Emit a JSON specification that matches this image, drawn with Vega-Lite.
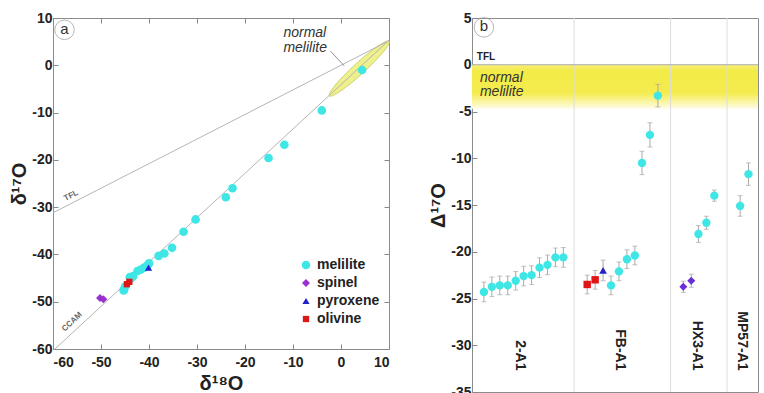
{
  "$schema": "https://vega.github.io/schema/vega-lite/v6.json",
  "padding": {"left": 9, "top": 10, "right": 0, "bottom": 0},
  "background": "white",
  "spacing": 36,
  "config": {
    "font": "Liberation Sans",
    "view": {"stroke": "#8c8c8c", "strokeWidth": 1},
    "axis": {
      "labelFont": "Liberation Sans", "labelFontSize": 14, "labelFontWeight": "bold", "labelColor": "#222",
      "titleFont": "Liberation Sans", "titleFontSize": 20, "titleFontWeight": "bold", "titleColor": "#222",
      "domain": false, "grid": false, "tickColor": "#888", "tickSize": -5, "labelPadding": 6,
      "labelExpr": "'' + datum.value"
    }
  },
  "resolve": {"scale": {"color": "independent", "shape": "independent", "size": "independent"}},
  "hconcat": [
    {
      "width": 336,
      "height": 331,
      "encoding": {
        "x": {"field": "x", "type": "quantitative", "scale": {"domain": [-60, 10], "nice": false, "zero": false}, "axis": null},
        "y": {"field": "y", "type": "quantitative", "scale": {"domain": [-60, 10], "nice": false, "zero": false}, "axis": null}
      },
      "resolve": {"axis": {"x": "independent", "y": "independent"}},
      "layer": [
        {
          "data": {"values": [{"x": 3.8, "y": -0.7}]},
          "mark": {"type": "point", "shape": "M -1 0 A 1 0.14 0 1 0 1 0 A 1 0.14 0 1 0 -1 0 Z", "size": 6561, "angle": -42.5, "filled": true, "fill": "#eef08c", "stroke": "#c9c862", "strokeWidth": 0.8, "opacity": 1}
        },
        {
          "data": {"values": [
            {"line": "TFL", "x": -60, "y": -31.2}, {"line": "TFL", "x": 10, "y": 5.2},
            {"line": "CCAM", "x": -59.6, "y": -60}, {"line": "CCAM", "x": 10, "y": 5.3}
          ]},
          "mark": {"type": "line", "color": "#b5b5b5", "strokeWidth": 1},
          "encoding": {"detail": {"field": "line", "type": "nominal"}}
        },
        {
          "data": {"values": [{"x": -2.2, "y": 3.0, "x2": 0.7, "y2": -0.15}]},
          "mark": {"type": "rule", "color": "#777", "strokeWidth": 0.8},
          "encoding": {"x2": {"field": "x2"}, "y2": {"field": "y2"}}
        },
        {
          "data": {"values": [
            {"mineral": "melilite", "x": 4.4, "y": -1.0},
            {"mineral": "melilite", "x": -4.0, "y": -9.55},
            {"mineral": "melilite", "x": -11.8, "y": -16.8},
            {"mineral": "melilite", "x": -15.1, "y": -19.6},
            {"mineral": "melilite", "x": -22.6, "y": -26.0},
            {"mineral": "melilite", "x": -24.0, "y": -27.9},
            {"mineral": "melilite", "x": -30.3, "y": -32.6},
            {"mineral": "melilite", "x": -32.8, "y": -35.2},
            {"mineral": "melilite", "x": -35.2, "y": -38.6},
            {"mineral": "melilite", "x": -36.8, "y": -39.8},
            {"mineral": "melilite", "x": -38.0, "y": -40.3},
            {"mineral": "melilite", "x": -40.0, "y": -41.9},
            {"mineral": "melilite", "x": -40.3, "y": -42.3},
            {"mineral": "melilite", "x": -41.0, "y": -42.8},
            {"mineral": "melilite", "x": -41.7, "y": -43.2},
            {"mineral": "melilite", "x": -42.4, "y": -43.5},
            {"mineral": "melilite", "x": -43.3, "y": -44.6},
            {"mineral": "melilite", "x": -43.8, "y": -45.1},
            {"mineral": "melilite", "x": -44.0, "y": -44.8},
            {"mineral": "melilite", "x": -45.0, "y": -46.8},
            {"mineral": "melilite", "x": -45.2, "y": -47.5},
            {"mineral": "melilite", "x": -45.3, "y": -47.6},
            {"mineral": "spinel", "x": -50.2, "y": -49.2},
            {"mineral": "spinel", "x": -49.5, "y": -49.5},
            {"mineral": "pyroxene", "x": -40.1, "y": -42.8},
            {"mineral": "olivine", "x": -44.6, "y": -46.3},
            {"mineral": "olivine", "x": -44.1, "y": -45.8}
          ]},
          "mark": {"type": "point", "filled": true, "opacity": 1},
          "encoding": {
            "x": {"field": "x", "type": "quantitative", "scale": {"domain": [-60, 10], "nice": false, "zero": false},
                  "axis": {"orient": "bottom", "values": [-60, -50, -40, -30, -20, -10, 0, 10], "title": "δ¹⁸O", "titlePadding": 4, "labelPadding": 11}},
            "y": {"field": "y", "type": "quantitative", "scale": {"domain": [-60, 10], "nice": false, "zero": false},
                  "axis": {"orient": "left", "values": [-60, -50, -40, -30, -20, -10, 0, 10], "title": "δ¹⁷O", "titlePadding": 2, "labelPadding": 6}},
            "color": {"field": "mineral", "type": "nominal",
                      "scale": {"domain": ["melilite", "spinel", "pyroxene", "olivine"], "range": ["#3ee6e6", "#9b2fd0", "#2222cc", "#e01515"]},
                      "legend": {"orient": "none", "legendX": 246, "legendY": 240, "title": null, "padding": 0, "labelFontSize": 14, "labelFontWeight": "bold", "labelColor": "#222", "labelFont": "Liberation Sans", "symbolSize": 60, "symbolStrokeWidth": 0, "rowPadding": 4, "labelOffset": 4}},
            "shape": {"field": "mineral", "type": "nominal",
                      "scale": {"domain": ["melilite", "spinel", "pyroxene", "olivine"], "range": ["circle", "diamond", "triangle-up", "square"]},
                      "legend": {"orient": "none", "legendX": 246, "legendY": 240, "title": null, "padding": 0, "labelFontSize": 14, "labelFontWeight": "bold", "labelColor": "#222", "labelFont": "Liberation Sans", "symbolSize": 60, "symbolStrokeWidth": 0, "rowPadding": 4, "labelOffset": 4}},
            "size": {"field": "mineral", "type": "nominal",
                     "scale": {"domain": ["melilite", "spinel", "pyroxene", "olivine"], "range": [75, 40, 45, 40]}, "legend": null}
          }
        },
        {
          "data": {"values": [{"x": -56.2, "y": -27.6, "t": "TFL"}]},
          "mark": {"type": "text", "angle": -27, "fontSize": 8, "fontWeight": "bold", "color": "#666", "align": "center", "baseline": "middle"},
          "encoding": {"text": {"field": "t"}}
        },
        {
          "data": {"values": [{"x": -56.0, "y": -54.3, "t": "CCAM"}]},
          "mark": {"type": "text", "angle": -43, "fontSize": 8, "fontWeight": "bold", "color": "#666", "align": "center", "baseline": "middle"},
          "encoding": {"text": {"field": "t"}}
        },
        {
          "data": {"values": [{"x": -12.0, "y": 6.86, "t": "normal"}, {"x": -12.0, "y": 3.67, "t": "melilite"}]},
          "mark": {"type": "text", "fontSize": 14, "fontStyle": "italic", "color": "#333", "align": "left", "baseline": "middle"},
          "encoding": {"text": {"field": "t"}}
        },
        {
          "data": {"values": [{"x": -57.6, "y": 7.5}]},
          "mark": {"type": "point", "shape": "circle", "size": 380, "filled": false, "stroke": "#999", "strokeWidth": 1}
        },
        {
          "data": {"values": [{"x": -57.6, "y": 7.5, "t": "a"}]},
          "mark": {"type": "text", "fontSize": 15, "color": "#333", "align": "center", "baseline": "middle", "dy": -1},
          "encoding": {"text": {"field": "t"}}
        },
        {
          "data": {"values": [{"x": 0, "y": 0}]},
          "mark": {"type": "point", "opacity": 0},
          "encoding": {
            "x": {"field": "x", "type": "quantitative", "scale": {"domain": [-60, 10], "nice": false, "zero": false},
                  "axis": {"orient": "top", "values": [-60, -50, -40, -30, -20, -10, 0, 10], "labels": false, "title": null}},
            "y": {"field": "y", "type": "quantitative", "scale": {"domain": [-60, 10], "nice": false, "zero": false},
                  "axis": {"orient": "right", "values": [-60, -50, -40, -30, -20, -10, 0, 10], "labels": false, "title": null}}
          }
        }
      ]
    },
    {
      "width": 286,
      "height": 374,
      "resolve": {"axis": {"x": "independent", "y": "independent"}},
      "layer": [
        {
          "data": {"values": [{"idx": 0, "idx2": 36, "v": 0, "v2": -4.7}]},
          "mark": {"type": "rect", "color": {"gradient": "linear", "x1": 0, "y1": 0, "x2": 0, "y2": 1,
            "stops": [{"offset": 0, "color": "#f6ef7a"}, {"offset": 0.15, "color": "#f3eb45"}, {"offset": 0.65, "color": "#f4ec50"}, {"offset": 1, "color": "#fefce6"}]}},
          "encoding": {
            "x": {"field": "idx", "type": "quantitative", "scale": {"domain": [0, 36], "nice": false, "zero": false}, "axis": null},
            "x2": {"field": "idx2"},
            "y": {"field": "v", "type": "quantitative", "scale": {"domain": [-35, 5], "nice": false, "zero": false}, "axis": null},
            "y2": {"field": "v2"}
          }
        },
        {
          "data": {"values": [{"idx": 12.85}, {"idx": 25.0}, {"idx": 32.1}]},
          "mark": {"type": "rule", "color": "#dddddd", "strokeWidth": 1},
          "encoding": {
            "x": {"field": "idx", "type": "quantitative", "scale": {"domain": [0, 36], "nice": false, "zero": false}, "axis": null}
          }
        },
        {
          "data": {"values": [{"v": 0}]},
          "mark": {"type": "rule", "color": "#aaaaaa", "strokeWidth": 1},
          "encoding": {
            "y": {"field": "v", "type": "quantitative", "scale": {"domain": [-35, 5], "nice": false, "zero": false}, "axis": null}
          }
        },
        {
          "data": {"name": "b"},
          "mark": {"type": "errorbar", "ticks": {"size": 5}, "color": "#a8a8a8"},
          "encoding": {
            "x": {"field": "idx", "type": "quantitative", "scale": {"domain": [0, 36], "nice": false, "zero": false}, "axis": null},
            "y": {"field": "v", "type": "quantitative", "scale": {"domain": [-35, 5], "nice": false, "zero": false}, "axis": null},
            "yError": {"field": "err"}
          }
        },
        {
          "data": {"name": "b"},
          "mark": {"type": "point", "filled": true, "opacity": 1},
          "encoding": {
            "x": {"field": "idx", "type": "quantitative", "scale": {"domain": [0, 36], "nice": false, "zero": false}, "axis": null},
            "y": {"field": "v", "type": "quantitative", "scale": {"domain": [-35, 5], "nice": false, "zero": false},
                  "axis": {"orient": "left", "values": [-35, -30, -25, -20, -15, -10, -5, 0, 5], "title": "Δ¹⁷O", "titlePadding": 2, "labelPadding": 6}},
            "color": {"field": "mineral", "type": "nominal",
                      "scale": {"domain": ["melilite", "spinel", "pyroxene", "olivine"], "range": ["#3ee6e6", "#6a2ed6", "#2222cc", "#e01515"]}, "legend": null},
            "shape": {"field": "mineral", "type": "nominal",
                      "scale": {"domain": ["melilite", "spinel", "pyroxene", "olivine"], "range": ["circle", "diamond", "triangle-up", "square"]}, "legend": null},
            "size": {"field": "mineral", "type": "nominal",
                     "scale": {"domain": ["melilite", "spinel", "pyroxene", "olivine"], "range": [70, 55, 70, 60]}, "legend": null}
          }
        },
        {
          "data": {"values": [
            {"idx": 6.0, "v": -32.7, "t": "2-A1"},
            {"idx": 18.6, "v": -32.7, "t": "FB-A1"},
            {"idx": 28.3, "v": -32.7, "t": "HX3-A1"},
            {"idx": 34.0, "v": -32.7, "t": "MP57-A1"}
          ]},
          "mark": {"type": "text", "angle": 90, "align": "right", "baseline": "middle", "fontSize": 14, "fontWeight": "bold", "color": "#222"},
          "encoding": {
            "x": {"field": "idx", "type": "quantitative", "scale": {"domain": [0, 36], "nice": false, "zero": false}, "axis": null},
            "y": {"field": "v", "type": "quantitative", "scale": {"domain": [-35, 5], "nice": false, "zero": false}, "axis": null},
            "text": {"field": "t"}
          }
        },
        {
          "data": {"values": [{"idx": 0.6, "v": 0.3, "t": "TFL"}]},
          "mark": {"type": "text", "align": "left", "baseline": "bottom", "fontSize": 10, "fontWeight": "bold", "color": "#222"},
          "encoding": {
            "x": {"field": "idx", "type": "quantitative", "scale": {"domain": [0, 36], "nice": false, "zero": false}, "axis": null},
            "y": {"field": "v", "type": "quantitative", "scale": {"domain": [-35, 5], "nice": false, "zero": false}, "axis": null},
            "text": {"field": "t"}
          }
        },
        {
          "data": {"values": [{"idx": 1.0, "v": -1.4, "t": "normal"}, {"idx": 1.0, "v": -2.95, "t": "melilite"}]},
          "mark": {"type": "text", "align": "left", "baseline": "middle", "fontSize": 14, "fontStyle": "italic", "color": "#333"},
          "encoding": {
            "x": {"field": "idx", "type": "quantitative", "scale": {"domain": [0, 36], "nice": false, "zero": false}, "axis": null},
            "y": {"field": "v", "type": "quantitative", "scale": {"domain": [-35, 5], "nice": false, "zero": false}, "axis": null},
            "text": {"field": "t"}
          }
        },
        {
          "data": {"values": [{"idx": 1.5, "v": 4.0}]},
          "mark": {"type": "point", "shape": "circle", "size": 380, "filled": false, "stroke": "#999", "strokeWidth": 1},
          "encoding": {
            "x": {"field": "idx", "type": "quantitative", "scale": {"domain": [0, 36], "nice": false, "zero": false}, "axis": null},
            "y": {"field": "v", "type": "quantitative", "scale": {"domain": [-35, 5], "nice": false, "zero": false}, "axis": null}
          }
        },
        {
          "data": {"values": [{"idx": 1.5, "v": 4.0, "t": "b"}]},
          "mark": {"type": "text", "fontSize": 15, "color": "#333", "align": "center", "baseline": "middle", "dy": -1},
          "encoding": {
            "x": {"field": "idx", "type": "quantitative", "scale": {"domain": [0, 36], "nice": false, "zero": false}, "axis": null},
            "y": {"field": "v", "type": "quantitative", "scale": {"domain": [-35, 5], "nice": false, "zero": false}, "axis": null},
            "text": {"field": "t"}
          }
        }
      ]
    }
  ],
  "datasets": {
    "b": [
      {"group": "2-A1", "mineral": "melilite", "idx": 1.5, "v": -24.3, "err": 1.05},
      {"group": "2-A1", "mineral": "melilite", "idx": 2.5, "v": -23.75, "err": 1.05},
      {"group": "2-A1", "mineral": "melilite", "idx": 3.5, "v": -23.6, "err": 1.0},
      {"group": "2-A1", "mineral": "melilite", "idx": 4.5, "v": -23.6, "err": 1.0},
      {"group": "2-A1", "mineral": "melilite", "idx": 5.5, "v": -23.1, "err": 1.0},
      {"group": "2-A1", "mineral": "melilite", "idx": 6.5, "v": -22.6, "err": 1.05},
      {"group": "2-A1", "mineral": "melilite", "idx": 7.5, "v": -22.5, "err": 1.0},
      {"group": "2-A1", "mineral": "melilite", "idx": 8.5, "v": -21.7, "err": 1.05},
      {"group": "2-A1", "mineral": "melilite", "idx": 9.5, "v": -21.4, "err": 1.05},
      {"group": "2-A1", "mineral": "melilite", "idx": 10.5, "v": -20.6, "err": 1.0},
      {"group": "2-A1", "mineral": "melilite", "idx": 11.5, "v": -20.6, "err": 1.05},
      {"group": "FB-A1", "mineral": "olivine", "idx": 14.5, "v": -23.5, "err": 1.0},
      {"group": "FB-A1", "mineral": "olivine", "idx": 15.5, "v": -23.0, "err": 1.0},
      {"group": "FB-A1", "mineral": "pyroxene", "idx": 16.5, "v": -22.0, "err": 1.1},
      {"group": "FB-A1", "mineral": "melilite", "idx": 17.5, "v": -23.6, "err": 1.0},
      {"group": "FB-A1", "mineral": "melilite", "idx": 18.5, "v": -22.1, "err": 1.0},
      {"group": "FB-A1", "mineral": "melilite", "idx": 19.5, "v": -20.8, "err": 1.0},
      {"group": "FB-A1", "mineral": "melilite", "idx": 20.5, "v": -20.4, "err": 1.0},
      {"group": "FB-A1", "mineral": "melilite", "idx": 21.4, "v": -10.5, "err": 1.25},
      {"group": "FB-A1", "mineral": "melilite", "idx": 22.4, "v": -7.5, "err": 1.3},
      {"group": "FB-A1", "mineral": "melilite", "idx": 23.4, "v": -3.3, "err": 1.2},
      {"group": "HX3-A1", "mineral": "spinel", "idx": 26.6, "v": -23.75, "err": 0.6},
      {"group": "HX3-A1", "mineral": "spinel", "idx": 27.6, "v": -23.1, "err": 0.7},
      {"group": "HX3-A1", "mineral": "melilite", "idx": 28.5, "v": -18.1, "err": 0.9},
      {"group": "HX3-A1", "mineral": "melilite", "idx": 29.5, "v": -16.9, "err": 0.7},
      {"group": "HX3-A1", "mineral": "melilite", "idx": 30.5, "v": -14.0, "err": 0.6},
      {"group": "MP57-A1", "mineral": "melilite", "idx": 33.75, "v": -15.1, "err": 1.1},
      {"group": "MP57-A1", "mineral": "melilite", "idx": 34.8, "v": -11.7, "err": 1.2}
    ]
  }
}
